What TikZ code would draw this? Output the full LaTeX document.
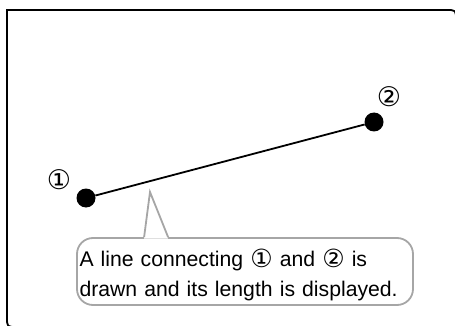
\documentclass[tikz,border=0pt]{standalone}
\usepackage{fontspec}
\setmainfont{Liberation Sans}
\newfontfamily\circfont{DejaVu Sans}
\newcommand{\cnum}[1]{{\circfont\fontsize{25}{29}\selectfont\raisebox{-1pt}{#1}}}
\usetikzlibrary{calc}

\begin{document}
\begin{tikzpicture}[x=1pt, y=-1pt,
  frame/.style={draw, line width=1.8pt},
  dot/.style={circle, fill=black, inner sep=0pt, minimum size=19pt},
  num/.style={font=\circfont\fontsize{27}{27}\selectfont},
  note/.style={draw=gray!70, line width=1.8pt, rounded corners=16pt, fill=white,
    align=left, text width=331pt, inner xsep=2.5pt, inner ysep=0pt,
    minimum height=67pt, font=\fontsize{21.2}{30}\selectfont}]
  \useasboundingbox (0,0) rectangle (455,326);
  % outer panel
  \draw[frame] (17,327) .. controls (7,327) .. (7,317) -- (7,10) -- (446,10)
    .. controls (456,10) .. (456,20) -- (456,330);
  % the two points and the line between them
  \node[dot] (p1) at (86,198) {};
  \node[dot] (p2) at (374,122) {};
  \draw[line width=1.8pt] (p1) -- (p2);
  \node[num] (n1) at (59,180) {①};
  \node[num] (n2) at (389,97) {②};
  % callout
  \node[note] (note) at (245,271.5)
    {\rule{0pt}{24pt}A line connecting \cnum{①} and \cnum{②} is\\drawn and its length is displayed.};
  \coordinate (tip) at (150,192);
  \fill[white] ($(note.north west)+(68,1.5)$) -- (tip) -- ($(note.north west)+(92,1.5)$) -- cycle;
  \draw[gray!70, line width=1.8pt] ($(note.north west)+(68,0)$) -- (tip) -- ($(note.north west)+(92,0)$);
\end{tikzpicture}
\end{document}
